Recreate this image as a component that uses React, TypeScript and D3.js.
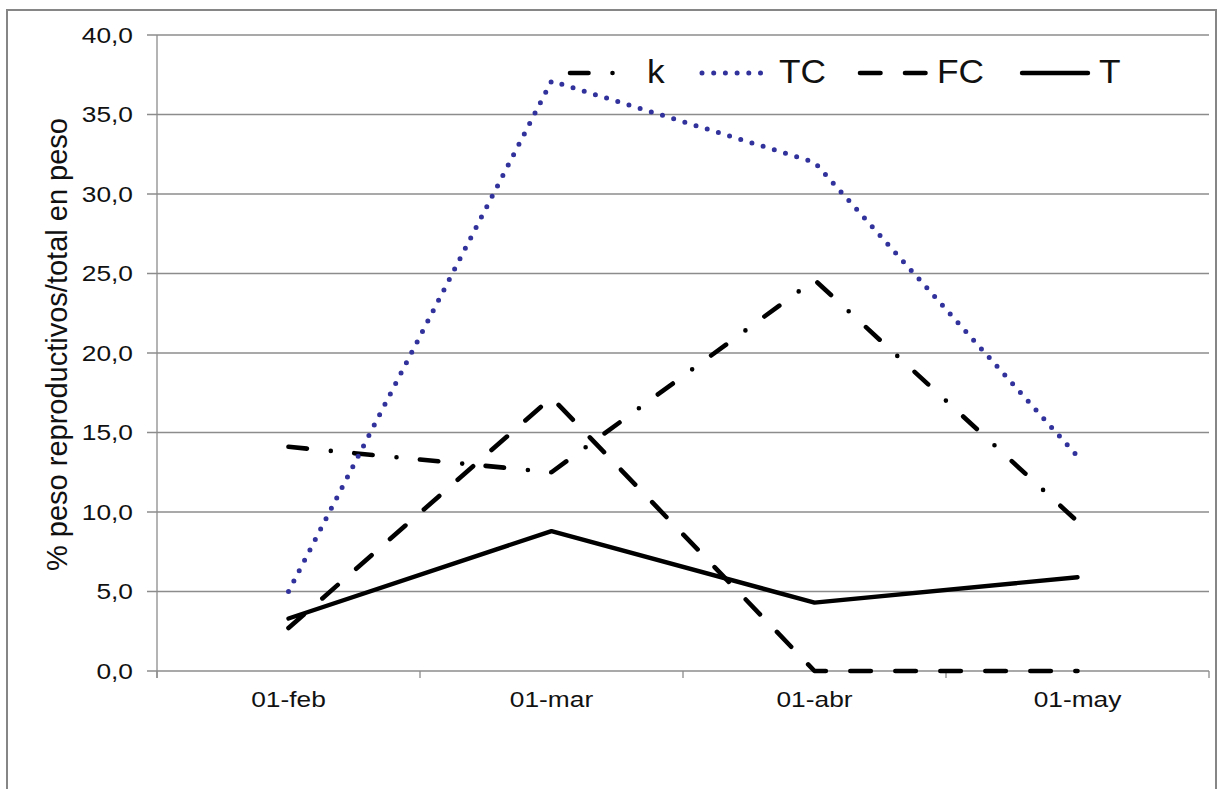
import React from 'react';
import * as d3 from 'd3';

const categories = ['01-feb', '01-mar', '01-abr', '01-may'];
const kValues = [14.1, 12.5, 24.6, 9.4];
const tcValues = [5.0, 37.1, 32.0, 13.5];
const fcValues = [2.7, 17.2, 0, 0];
const tValues = [3.3, 8.8, 4.3, 5.9];
const yTicks = [0, 5, 10, 15, 20, 25, 30, 35, 40];
const yTitle = '% peso reproductivos/total en peso';

const W = 1219;
const H = 789;
const plot = { left: 157, right: 1209, top: 35, bottom: 671 };
const FONT = '"Liberation Sans", Arial, Helvetica, sans-serif';
const GRID = '#8c8c8c';

type SeriesStyle = { name: string; values: number[]; color: string; width: number; dash: string };
const series: SeriesStyle[] = [
  { name: 'k', values: kValues, color: '#000', width: 4.6, dash: '18.5 24 0 23.5' },
  { name: 'TC', values: tcValues, color: '#32329c', width: 5, dash: '0 11.7' },
  { name: 'FC', values: fcValues, color: '#000', width: 4.6, dash: '20.5 24.5' },
  { name: 'T', values: tValues, color: '#000', width: 4.4, dash: 'none' },
];
const legendX = [570, 702, 860, 1022];

export default function App() {
  const x = d3.scaleBand<string>().domain(categories).range([plot.left, plot.right]);
  const y = d3.scaleLinear().domain([0, 40]).range([plot.bottom, plot.top]);
  const cx = (c: string) => (x(c) as number) + x.bandwidth() / 2;
  const fmt = (v: number) => d3.format('.1f')(v).replace('.', ',');
  const boundaries = [...categories.map((c) => x(c) as number), plot.right];

  return (
    <svg
      width={W}
      height={H}
      style={{ position: 'fixed', left: 0, top: 0, background: '#fff' }}
      fontFamily={FONT}
    >
      <rect x={0} y={0} width={W} height={H} fill="#fff" />
      <rect x={7} y={10} width={1209} height={820} fill="none" stroke="#868686" strokeWidth={2} />

      {yTicks.map((t) => (
        <line key={'g' + t} x1={plot.left - 10} x2={plot.right} y1={y(t)} y2={y(t)} stroke={GRID} strokeWidth={1.3} />
      ))}
      <line x1={plot.left} x2={plot.left} y1={plot.top} y2={plot.bottom + 7} stroke={GRID} strokeWidth={1.3} />
      {boundaries.map((b, i) => (
        <line key={'xt' + i} x1={b} x2={b} y1={plot.bottom} y2={plot.bottom + 7} stroke={GRID} strokeWidth={1.3} />
      ))}

      {yTicks.map((t) => (
        <text
          key={'yl' + t}
          transform={`translate(133,${y(t) + 7.5}) scale(1.23,1)`}
          textAnchor="end"
          fontSize={21.4}
          fill="#111"
        >
          {fmt(t)}
        </text>
      ))}
      {categories.map((c) => (
        <text key={c} transform={`translate(${cx(c)},706.5) scale(1.23,1)`} textAnchor="middle" fontSize={21.4} fill="#111">
          {c}
        </text>
      ))}

      <text transform={`translate(67,344.5) rotate(-90)`} textAnchor="middle" fontSize={29} fill="#111">
        {yTitle}
      </text>

      {series.map((s) => {
        const line = d3
          .line<number>()
          .x((_, i) => cx(categories[i]))
          .y((v) => y(v));
        return (
          <path
            key={s.name}
            d={line(s.values) || ''}
            fill="none"
            stroke={s.color}
            strokeWidth={s.width}
            strokeDasharray={s.dash}
            strokeLinecap="round"
            strokeLinejoin="round"
          />
        );
      })}

      {series.map((s, i) => (
        <g key={'lg' + s.name}>
          <line
            x1={legendX[i]}
            x2={legendX[i] + 66}
            y1={73}
            y2={73}
            stroke={s.color}
            strokeWidth={s.width}
            strokeDasharray={s.dash}
            strokeLinecap="round"
          />
          <text transform={`translate(${legendX[i] + 77},83) scale(1.07,1)`} fontSize={33} fill="#111">
            {s.name}
          </text>
        </g>
      ))}
    </svg>
  );
}
